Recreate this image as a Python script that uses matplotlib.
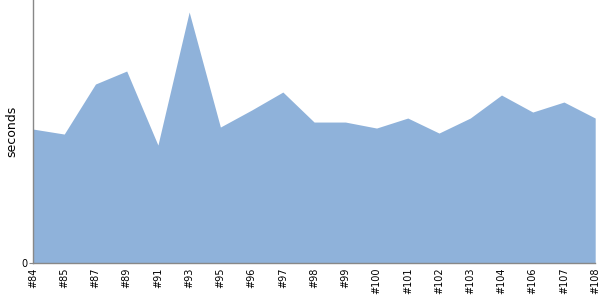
import matplotlib
matplotlib.use("Agg")
import matplotlib.pyplot as plt
import numpy as np

# build labels and durations (seconds)
builds = ["#84", "#85", "#87", "#89", "#91", "#93", "#95", "#96", "#97", "#98",
          "#99", "#100", "#101", "#102", "#103", "#104", "#106", "#107", "#108"]
durations = [67, 64.5, 89.5, 96, 59, 125.5, 68, 76.5, 85.5, 70.5,
             70.5, 67.5, 72.5, 65, 72.5, 84, 75.5, 80.5, 72.5]
y_max = 131.5

FILL = "#8fb2da"
AXIS = "#888888"

fig = plt.figure(figsize=(6, 3), dpi=100)
ax = fig.add_axes([0.055, 0.123, 0.937, 0.877])

x = np.arange(len(builds))
ax.fill_between(x, 0, durations, color=FILL, linewidth=0)

ax.set_xlim(0, len(builds) - 1)
ax.set_ylim(0, y_max)
ax.set_xticks(x)
ax.set_xticklabels(builds, rotation=90, fontsize=7)
ax.set_yticks([0])
ax.set_yticklabels(["0"], fontsize=7)
ax.tick_params(axis="x", length=0, pad=3)
ax.tick_params(axis="y", length=3, pad=1, color=AXIS)
ax.set_ylabel("seconds", fontsize=9, labelpad=2)

for side in ("top", "right"):
    ax.spines[side].set_visible(False)
for side in ("left", "bottom"):
    ax.spines[side].set_color(AXIS)
    ax.spines[side].set_linewidth(1)

fig.savefig("out.png", dpi=100)
